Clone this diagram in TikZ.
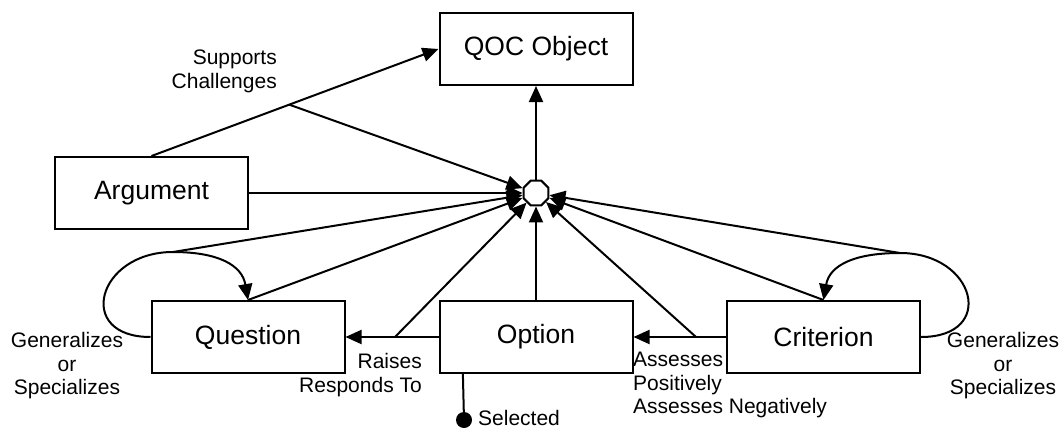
\documentclass[tikz,border=0pt]{standalone}
\usepackage{fontspec}
\setmainfont{Liberation Sans}
\usetikzlibrary{arrows.meta,shapes.geometric,calc}
\begin{document}
\begin{tikzpicture}[x=1pt,y=-1pt,
  every node/.style={inner sep=0pt},
  entity/.style={draw, line width=2pt, minimum width=193pt, minimum height=72pt,
    font=\fontsize{26.5}{30}\selectfont},
  hub/.style={draw, line width=2pt, regular polygon, regular polygon sides=8,
    minimum size=27pt, fill=white},
  link/.style={line width=2pt},
  arr/.style={link, -{Triangle[length=16pt,width=14pt]}},
  lbl/.style={font=\fontsize{21}{23.5}\selectfont},
]
\useasboundingbox (0,0) rectangle (1062,428);

% entities
\node[entity] (qoc)  at (536,49)    {QOC Object};
\node[hub]    (hub)  at (536,193)   {};
\node[entity] (arg)  at (151.5,193) {Argument};
\node[entity] (q)    at (248,337)   {Question};
\node[entity] (opt)  at (536,337)   {Option};
\node[entity] (crit) at (823.5,337) {Criterion};

% junction points on the relations
\coordinate (sup) at ($(arg.north)!0.48!(qoc.west)$);
\coordinate (rai) at (395,337);
\coordinate (ass) at (696,337);
\coordinate (lT)  at (173,252);
\coordinate (rT)  at (900,253);
\coordinate (selTop) at ($(opt.south west)!0.125!(opt.south east)$);
\coordinate (selDot) at (464,420);

% hub to the general object
\draw[arr] (hub) -- (qoc);

% relations
\draw[arr] (arg.north) -- (qoc.west);
\draw[arr] (opt.west) -- (q.east);
\draw[arr] (crit.west) -- (opt.east);
\draw[arr] (q.west) .. controls +(-76,0) and +(-76,0) .. (lT)
           .. controls +(45,0) and +(-6,-35) .. (q.north);
\draw[arr] (crit.east) .. controls +(76,0) and +(76,0) .. (rT)
           .. controls +(-45,0) and +(6,-35) .. (crit.north);

% everything is a QOC object
\draw[arr] (sup) -- (hub);
\draw[arr] (arg.east) -- (hub);
\draw[arr] (lT) -- (hub);
\draw[arr] (q.north) -- (hub);
\draw[arr] (rai) -- (hub);
\draw[arr] (opt.north) -- (hub);
\draw[arr] (ass) -- (hub);
\draw[arr] (crit.north) -- (hub);
\draw[arr] (rT) -- (hub);

% selected attribute
\draw[link] (selTop) -- (selDot);
\fill (selDot) circle (8pt);

% labels
\node[lbl, align=right, anchor=east] (supLbl) at (277,71.5) {Supports\\Challenges};
\node[lbl, align=right, anchor=east] (raiLbl) at (422,375) {Raises\\Responds To};
\node[lbl, align=left, anchor=west] (assLbl) at (633,385) {Assesses\\Positively\\Assesses Negatively};
\node[lbl, align=center] (genL) at (67,366) {Generalizes\\or\\Specializes};
\node[lbl, align=center] (genR) at (1003,366) {Generalizes\\or\\Specializes};
\node[lbl, anchor=west] (selLbl) at (478,417.5) {Selected};
\end{tikzpicture}
\end{document}
